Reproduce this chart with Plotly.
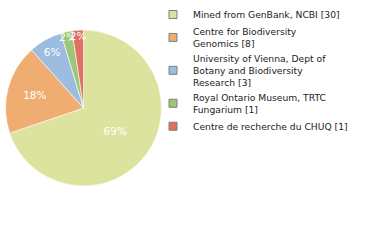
import plotly.graph_objects as go

labels = [
    "Mined from GenBank, NCBI [30]",
    "Centre for Biodiversity<br>Genomics [8]",
    "University of Vienna, Dept of<br>Botany and Biodiversity<br>Research [3]",
    "Royal Ontario Museum, TRTC<br>Fungarium [1]",
    "Centre de recherche du CHUQ [1]",
]
values = [30, 8, 3, 1, 1]
pct_text = ["69%", "18%", "6%", "2%", "2%"]
colors = ["#dce39e", "#f0ad72", "#9dbde0", "#9cc67a", "#e07060"]

fig = go.Figure()
fig.add_trace(go.Pie(
    labels=labels,
    values=values,
    text=pct_text,
    textinfo="text",
    textposition="inside",
    insidetextorientation="horizontal",
    sort=False,
    direction="clockwise",
    rotation=0,
    marker=dict(colors=colors, line=dict(color="white", width=0.6)),
    textfont=dict(color="white", size=10.5, family="DejaVu Sans"),
    domain=dict(x=[5/380, 162/380], y=[1-186/240, 1-30/240]),
    hoverinfo="none",
    showlegend=False,
))

# legend entries (small grey-bordered squares)
for lab, col in zip(labels, colors):
    fig.add_trace(go.Scatter(
        x=[None], y=[None], mode="markers", name=lab,
        marker=dict(symbol="square", size=8, color=col,
                    line=dict(color="#7f7f7f", width=1)),
        hoverinfo="none",
    ))

fig.update_layout(
    width=380, height=240,
    margin=dict(l=0, r=0, t=0, b=0),
    paper_bgcolor="white",
    plot_bgcolor="white",
    xaxis=dict(visible=False),
    yaxis=dict(visible=False),
    uniformtext=dict(minsize=9, mode="show"),
    showlegend=True,
    legend=dict(
        x=153/380, y=1.0, xanchor="left", yanchor="top",
        font=dict(family="DejaVu Sans", size=9.2, color="#222222"),
        itemwidth=30,
        tracegroupgap=0,
        bgcolor="rgba(0,0,0,0)",
    ),
)

fig.write_html("out.html")
